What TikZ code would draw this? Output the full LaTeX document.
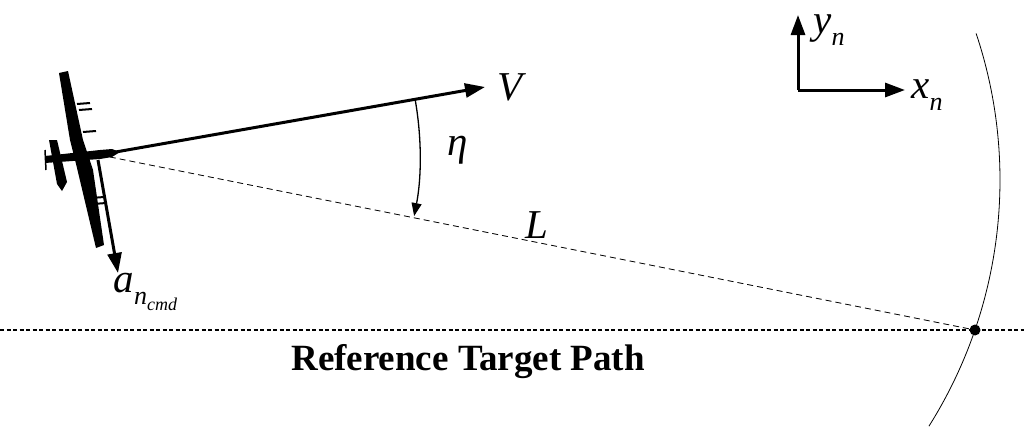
\documentclass[tikz,border=0pt]{standalone}
\usepackage{fontspec}
\setmainfont{Liberation Serif}
\usetikzlibrary{arrows.meta}
\newcommand{\sbs}[1]{\raisebox{-0.3em}{\fontsize{26}{28}\selectfont #1}}
\newcommand{\ssbs}[1]{\raisebox{-0.25em}{\fontsize{18}{20}\selectfont #1}}
\begin{document}
\begin{tikzpicture}[x=1pt,y=-1pt,
  arr/.style={-{Triangle[length=20pt,width=14pt]},line width=3pt},
  lbl/.style={font=\fontsize{41}{43}\selectfont\itshape}]
\useasboundingbox (0,0) rectangle (1024,439);
% aircraft
\coordinate (ac) at (100,155);
\fill (59,73) -- (68,71) -- (83,140) -- (93,170) -- (104,245) -- (96,248) -- (77,168) -- (70,140) -- cycle;
\fill (45,156) -- (100,150) -- (112,149) -- (120,152) -- (112,157) -- (100,159) -- (45,163) -- cycle;
\fill (49,140) -- (57,140) -- (67,182) -- (62,191) -- (57,184) -- cycle;
\draw[line width=1.5pt] (45,150) -- (46,170);
\foreach \y/\x in {104/80,110/82,132/86,198/94,204/96} \draw[line width=2pt] (\x-3,\y) -- (\x+10,\y-1);
% lines
\coordinate (vend) at (485,87);
\coordinate (tgt) at (975,330);
\draw[arr] (110,153) -- (vend) node[lbl,right=8pt] {V};
\draw[dashed,line width=0.8pt,dash pattern=on 6pt off 4pt] (ac) -- (tgt);
\draw[arr] (98,160) -- (118,273) coordinate (aend);
\node[lbl,anchor=west] at (110,292) {a\sbs{n\ssbs{cmd}}};
\draw[-{Triangle[length=13pt,width=10pt]},line width=1.3pt] (ac) ++(-10.1:320) arc[start angle=-10.1,end angle=11.0,radius=320];
\node[lbl] at (458,150) {η};
\node[lbl] at (537,225) {L};
% path
\draw[line width=2.4pt,dash pattern=on 4pt off 2.5pt] (0,330) -- (1024,330);
\fill (tgt) circle (5.5);
\node[font=\fontsize{37}{40}\selectfont\bfseries] at (468,362) {Reference Target Path};
\draw[line width=0.8pt] (538,180) ++(-18.5:462) arc[start angle=-18.5,end angle=32.2,radius=462];
% axes
\coordinate (o) at (798,90);
\draw[arr] (o) -- (798,15);
\draw[arr] (o) -- (905,90);
\node[lbl,anchor=west] at (810,30) {y\sbs{n}};
\node[lbl,anchor=west] at (908,95) {x\sbs{n}};
\end{tikzpicture}
\end{document}
